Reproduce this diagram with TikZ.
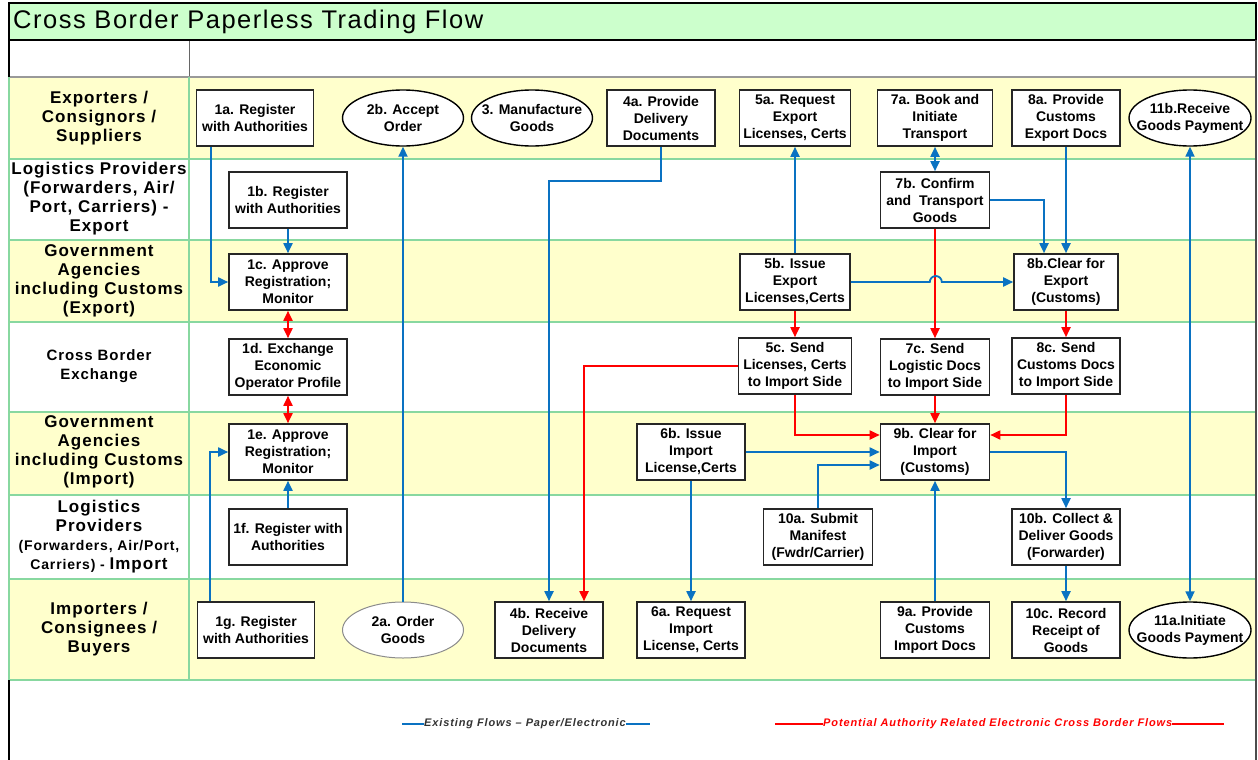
\documentclass[tikz,border=0pt]{standalone}
\usepackage{fontspec}
\setmainfont{Liberation Sans}
\newfontfamily\lanefont[LetterSpace=6]{Liberation Sans}
\newfontfamily\titlefont[LetterSpace=6]{Liberation Sans}
\newfontfamily\legfont[LetterSpace=8]{Liberation Sans}
\usetikzlibrary{shapes.geometric,arrows.meta,calc}
\definecolor{titlegreen}{HTML}{CCFFCC}
\definecolor{laneyellow}{HTML}{FFFFCC}
\definecolor{laneline}{HTML}{88D8A0}
\definecolor{flowblue}{HTML}{0A72C2}
\definecolor{flowred}{HTML}{FF0000}
\tikzset{
  box/.style={draw=black!85, line width=1.6pt, fill=white, minimum height=56pt, inner sep=1pt, align=center, font=\bfseries\fontsize{14}{17}\selectfont},
  oval/.style={ellipse, draw=black, line width=1.4pt, fill=white, minimum height=56pt, inner sep=0pt},
  ovaltext/.style={inner sep=0pt, align=center, font=\bfseries\fontsize{14}{17}\selectfont},
  lanelabel/.style={align=center, font=\lanefont\bfseries\fontsize{17}{19}\selectfont},
  bl/.style={draw=flowblue, line width=1.8pt, -{Triangle[length=10pt,width=9pt]}},
  bl2/.style={draw=flowblue, line width=1.8pt, {Triangle[length=10pt,width=9pt]}-{Triangle[length=10pt,width=9pt]}},
  rd/.style={draw=flowred, line width=1.8pt, -{Triangle[length=10pt,width=9pt]}},
  rd2/.style={draw=flowred, line width=1.8pt, {Triangle[length=10pt,width=9pt]}-{Triangle[length=10pt,width=9pt]}},
  legtext/.style={inner sep=0pt, font=\legfont\bfseries\itshape\fontsize{11}{13}\selectfont}
}
\begin{document}
\begin{tikzpicture}[x=1pt,y=-1pt]
\useasboundingbox (0,0) rectangle (1258,760);
\fill[white] (0,0) rectangle (1258,760);
% title band
\fill[titlegreen] (9,3) rectangle (1256,40);
\node[anchor=west, inner sep=0pt, font=\titlefont\fontsize{25.5}{28}\selectfont] (title) at (13,22) {Cross Border Paperless Trading Flow};
% lanes
\fill[laneyellow] (9,77) rectangle (1256,159);
\fill[laneyellow] (9,240) rectangle (1256,322);
\fill[laneyellow] (9,412) rectangle (1256,495);
\fill[laneyellow] (9,579) rectangle (1256,680);
\draw[black!60, line width=1pt] (189,40) -- (189,77);
\draw[black!40, line width=1pt] (9,40) -- (1256,40);
\draw[black!40, line width=1pt] (189,77) -- (1256,77);
\draw[black!40, line width=1pt] (9,77) -- (189,77);
\foreach \yy in {159,240,322,412,495,579,680} {
  \draw[laneline, line width=1.2pt] (9,\yy) -- (1256,\yy);
}
\draw[laneline, line width=1.2pt] (189,77) -- (189,680);
\draw[laneline, line width=1.2pt] (9,77) -- (9,680);
\draw[black, line width=1.2pt] (9,3) rectangle (1256,40);
\draw[black, line width=1.4pt] (9,40) -- (9,77);
\draw[black, line width=1.4pt] (9,680) -- (9,760);
\draw[black!70, line width=1.4pt] (1256,40) -- (1256,760);

% lane labels
\node[lanelabel] (L1) at (99,118) {Exporters /\\Consignors /\\Suppliers};
\node[lanelabel] (L2) at (99,199) {Logistics Providers\\(Forwarders, Air/\\Port, Carriers) -\\Export};
\node[lanelabel] (L3) at (99,281) {Government\\Agencies\\including Customs\\(Export)};
\node[lanelabel, font=\lanefont\bfseries\fontsize{15}{19}\selectfont] (L4) at (99,366) {Cross Border\\Exchange};
\node[lanelabel] (L5) at (99,452) {Government\\Agencies\\including Customs\\(Import)};
\node[lanelabel] (L6) at (99,537) {Logistics\\Providers\\{\fontsize{14}{17}\selectfont (Forwarders, Air/Port,}\\{\fontsize{14}{17}\selectfont Carriers) - }Import};
\node[lanelabel] (L7) at (99,629) {Importers /\\Consignees /\\Buyers};

% nodes
\node[box, minimum width=117pt] (1a) at (255,118) {1a. Register\\with Authorities};
\node[box, minimum width=118pt] (1b) at (288,200) {1b. Register\\with Authorities};
\node[box, minimum width=118pt] (1c) at (288,282) {1c. Approve\\Registration;\\Monitor};
\node[box, minimum width=118pt] (1d) at (288,367) {1d. Exchange\\Economic\\Operator Profile};
\node[box, minimum width=118pt] (1e) at (288,452) {1e. Approve\\Registration;\\Monitor};
\node[box, minimum width=118pt] (1f) at (288,537) {1f. Register with\\Authorities};
\node[box, minimum width=117pt] (1g) at (256,630) {1g. Register\\with Authorities};

\node[oval, minimum width=121pt] (2b) at (403,118) {};
\node[ovaltext] (2bt) at (2b) {2b. Accept\\Order};
\node[oval, minimum width=121pt] (3) at (532,118) {};
\node[ovaltext] (3t) at (3) {3. Manufacture\\Goods};
\node[oval, minimum width=121pt, draw=black!45, line width=1pt] (2a) at (403,630) {};
\node[ovaltext] (2at) at (2a) {2a. Order\\Goods};
\node[oval, minimum width=122pt] (11b) at (1190,118) {};
\node[ovaltext] (11bt) at (11b) {11b.Receive\\Goods Payment};
\node[oval, minimum width=122pt] (11a) at (1190,630) {};
\node[ovaltext] (11at) at (11a) {11a.Initiate\\Goods Payment};

\node[box, minimum width=108pt] (4a) at (661,118) {4a. Provide\\Delivery\\Documents};
\node[box, minimum width=111pt] (5a) at (795,118) {5a. Request\\Export\\Licenses, Certs};
\node[box, minimum width=115pt] (7a) at (935,118) {7a. Book and\\Initiate\\Transport};
\node[box, minimum width=108pt] (8a) at (1066,118) {8a. Provide\\Customs\\Export Docs};

\node[box, minimum width=109pt] (7b) at (935,200) {7b. Confirm\\and\ \ Transport\\Goods};

\node[box, minimum width=110pt] (5b) at (795,282) {5b. Issue\\Export\\Licenses,Certs};
\node[box, minimum width=104pt] (8b) at (1066,282) {8b.Clear for\\Export\\(Customs)};

\node[box, minimum width=113pt] (5c) at (795,366) {5c. Send\\Licenses, Certs\\to Import Side};
\node[box, minimum width=109pt] (7c) at (935,367) {7c. Send\\Logistic Docs\\to Import Side};
\node[box, minimum width=108pt] (8c) at (1066,366) {8c. Send\\Customs Docs\\to Import Side};

\node[box, minimum width=108pt] (6b) at (691,452) {6b. Issue\\Import\\License,Certs};
\node[box, minimum width=109pt] (9b) at (935,452) {9b. Clear for\\Import\\(Customs)};

\node[box, minimum width=109pt] (10a) at (818,537) {10a. Submit\\Manifest\\(Fwdr/Carrier)};
\node[box, minimum width=108pt] (10b) at (1066,537) {10b. Collect \&\\Deliver Goods\\(Forwarder)};

\node[box, minimum width=108pt] (4b) at (549,630) {4b. Receive\\Delivery\\Documents};
\node[box, minimum width=108pt] (6a) at (691,630) {6a. Request\\Import\\License, Certs};
\node[box, minimum width=109pt] (9a) at (935,630) {9a. Provide\\Customs\\Import Docs};
\node[box, minimum width=108pt] (10c) at (1066,630) {10c. Record\\Receipt of\\Goods};

% connectors - blue
\draw[bl] ([xshift=15pt]1a.south west) |- (1c.west);
\draw[bl] (1b.south) -- (1c.north);
\draw[bl] ([xshift=13pt]1g.north west) |- (1e.west);
\draw[bl] (1f.north) -- (1e.south);
\draw[bl] (2a.north) -- (2b.south);
\draw[bl] (4a.south) -- ++(0,34) -| (4b.north);
\draw[bl] (5b.north) -- (5a.south);
\draw[bl2] (7a.south) -- (7b.north);
\draw[bl] (7b.east) -| ([xshift=-22pt]8b.north);
\draw[bl] (8a.south) -- (8b.north);
\draw[bl] (6b.east) -- (9b.west);
\draw[bl] (10a.north) |- ([yshift=-13pt]9b.west);
\draw[bl] (9a.north) -- (9b.south);
\draw[bl] (9b.east) -| (10b.north);
\draw[bl] (10b.south) -- (10c.north);
\draw[bl] (6b.south) -- (6a.north);
\draw[bl2] (11a.north) -- (11b.south);
% connectors - red
\draw[rd2] (1c.south) -- (1d.north);
\draw[rd2] (1d.south) -- (1e.north);
\draw[rd] (5b.south) -- (5c.north);
\draw[rd] (7b.south) -- (7c.north);
\draw[rd] (8b.south) -- (8c.north);
\draw[rd] (5c.west) -| ([xshift=35pt]4b.north);
\draw[rd] (5c.south) |- ([yshift=17pt]9b.west);
\draw[rd] (7c.south) -- (9b.north);
\draw[rd] (8c.south) |- ([yshift=17pt]9b.east);
% jump over red line
\draw[bl] (5b.east) -- ++(79,0) arc[start angle=180, end angle=360, radius=6] -- (8b.west);

% legend
\node[legtext, anchor=west, text=black!80] (legA) at (424,724) {Existing Flows – Paper/Electronic};
\coordinate (legA1) at (402,724);
\coordinate (legA2) at (650,724);
\draw[flowblue, line width=1.5pt] (legA1) -- (legA.west);
\draw[flowblue, line width=1.5pt] (legA.east) -- (legA2);
\node[legtext, anchor=west, text=flowred] (legB) at (823,724) {Potential Authority Related Electronic Cross Border Flows};
\coordinate (legB1) at (775,724);
\coordinate (legB2) at (1224,724);
\draw[flowred, line width=1.5pt] (legB1) -- (legB.west);
\draw[flowred, line width=1.5pt] (legB.east) -- (legB2);
\end{tikzpicture}
\end{document}
